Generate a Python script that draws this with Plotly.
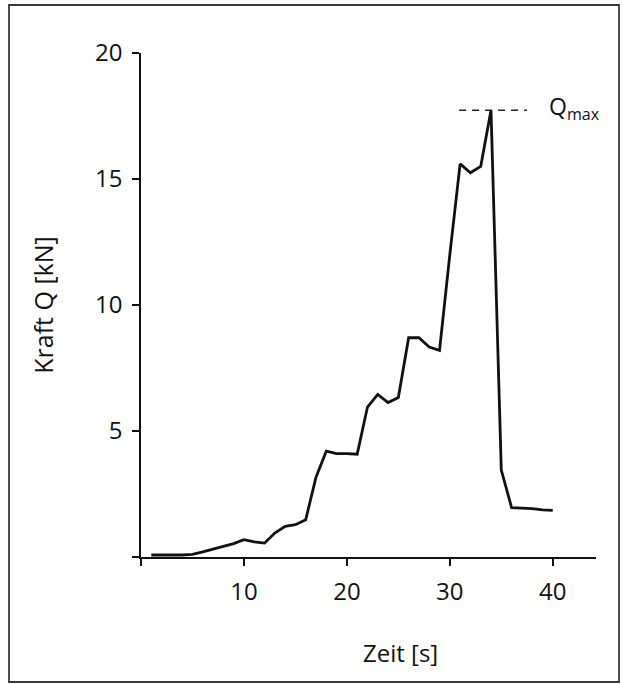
import plotly.graph_objects as go

# ---- data ----
zeit_s = list(range(1, 41))
kraft_kN = [0.08, 0.07, 0.08, 0.08, 0.10, 0.20, 0.30, 0.42, 0.53, 0.69,
            0.60, 0.55, 0.95, 1.22, 1.28, 1.48, 3.17, 4.20, 4.10, 4.10,
            4.08, 5.95, 6.45, 6.13, 6.33, 8.70, 8.70, 8.33, 8.20, 12.0,
            15.60, 15.25, 15.50, 17.73, 3.45, 1.96, 1.95, 1.92, 1.87, 1.85]
x_ticks = [0, 10, 20, 30, 40]
x_ticktext = ["", "10", "20", "30", "40"]
y_ticks = [0, 5, 10, 15, 20]
y_ticktext = ["", "5", "10", "15", "20"]
qmax_dash_x = [30.9, 37.5]
qmax_value = max(kraft_kN)
x_title = "Zeit [s]"
y_title = "Kraft Q [kN]"

# ---- layout geometry ----
W, H = 622, 684
L, R, T, B = 141, 26, 53, 127
FONT = "Open Sans"
pw, ph = W - L - R, H - T - B
def px_to_paper_x(px):
    return (px - L) / pw
def py_to_paper_y(py):
    return (H - B - py) / ph

fig = go.Figure()
fig.add_trace(go.Scatter(
    x=zeit_s, y=kraft_kN, mode="lines",
    line=dict(color="#111111", width=2.8),
    hoverinfo="skip", showlegend=False))
fig.add_trace(go.Scatter(
    x=qmax_dash_x, y=[qmax_value, qmax_value], mode="lines",
    line=dict(color="#222222", width=1.5, dash="7px,6px"),
    hoverinfo="skip", showlegend=False))

fig.add_annotation(x=39.4, y=qmax_value, xref="x", yref="y",
                   text="Q<sub>max</sub>", showarrow=False,
                   xanchor="left", yanchor="middle", yshift=3,
                   font=dict(family=FONT, size=23, color="#111111"))

# x axis title (placed right of centre, as in the reference)
fig.add_annotation(x=px_to_paper_x(400), y=py_to_paper_y(652),
                   xref="paper", yref="paper", text=x_title, showarrow=False,
                   xanchor="center", yanchor="middle",
                   font=dict(family=FONT, size=24, color="#111111"))

# border frame around the whole graphic
fig.add_shape(type="rect", xref="paper", yref="paper",
              x0=px_to_paper_x(9), x1=px_to_paper_x(619),
              y0=py_to_paper_y(682), y1=py_to_paper_y(5),
              line=dict(color="#3a3a3a", width=1.8), layer="below")

axis_common = dict(showline=True, linecolor="#111111", linewidth=1.5,
                   ticks="outside", ticklen=7, tickwidth=1.5, tickcolor="#111111",
                   showgrid=False, zeroline=False,
                   tickfont=dict(family=FONT, size=24, color="#111111"))

fig.update_xaxes(range=[0, 44.2], tickmode="array", tickvals=x_ticks,
                 ticktext=x_ticktext, ticklabelstandoff=5, **axis_common)
fig.update_yaxes(range=[0, 20], tickmode="array", tickvals=y_ticks,
                 ticktext=y_ticktext, title_text=y_title,
                 title_font=dict(family=FONT, size=25, color="#111111"),
                 title_standoff=34, ticklabelstandoff=5, **axis_common)

fig.update_layout(width=W, height=H,
                  margin=dict(l=L, r=R, t=T, b=B, pad=0),
                  paper_bgcolor="white", plot_bgcolor="white",
                  font=dict(family=FONT, color="#111111"))

fig.write_html("out.html")
